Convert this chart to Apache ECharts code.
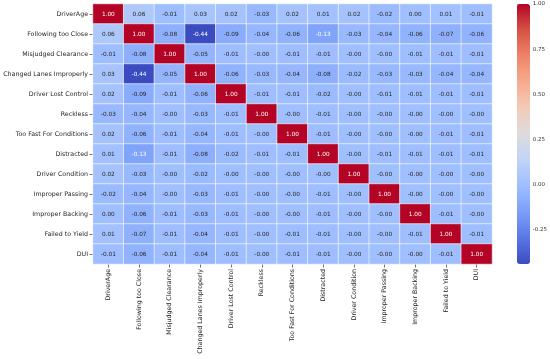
<!DOCTYPE html>
<html>
<head>
<meta charset="utf-8">
<script src="https://cdn.jsdelivr.net/npm/echarts@6/dist/echarts.min.js"></script>
<style>
html,body{margin:0;padding:0;background:#fff;}
#chart{width:550px;height:359px;}
</style>
</head>
<body>
<div id="chart"></div>
<script>
var categories = ['DriverAge','Following too Close','Misjudged Clearance','Changed Lanes Improperly','Driver Lost Control','Reckless','Too Fast For Conditions','Distracted','Driver Condition','Improper Passing','Improper Backing','Failed to Yield','DUI'];

var rowDriverAge        = [1.00, 0.06,-0.01, 0.03, 0.02,-0.03, 0.02, 0.01, 0.02,-0.02, 0.00, 0.01,-0.01];
var rowFollowing        = [0.06, 1.00,-0.08,-0.44,-0.09,-0.04,-0.06,-0.13,-0.03,-0.04,-0.06,-0.07,-0.06];
var rowMisjudged        = [-0.01,-0.08,1.00,-0.05,-0.01,-0, -0.01,-0.01,-0, -0, -0.01,-0.01,-0.01];
var rowChangedLanes     = [0.03,-0.44,-0.05, 1.00,-0.06,-0.03,-0.04,-0.08,-0.02,-0.03,-0.03,-0.04,-0.04];
var rowLostControl      = [0.02,-0.09,-0.01,-0.06, 1.00,-0.01,-0.01,-0.02,-0, -0.01,-0.01,-0.01,-0.01];
var rowReckless         = [-0.03,-0.04,-0, -0.03,-0.01, 1.00,-0, -0.01,-0, -0, -0, -0, -0];
var rowTooFast          = [0.02,-0.06,-0.01,-0.04,-0.01,-0, 1.00,-0.01,-0, -0, -0, -0.01,-0.01];
var rowDistracted       = [0.01,-0.13,-0.01,-0.08,-0.02,-0.01,-0.01, 1.00,-0, -0.01,-0.01,-0.01,-0.01];
var rowDriverCondition  = [0.02,-0.03,-0, -0.02,-0, -0, -0, -0, 1.00,-0, -0, -0, -0];
var rowImproperPassing  = [-0.02,-0.04,-0, -0.03,-0.01,-0, -0, -0.01,-0, 1.00,-0, -0, -0];
var rowImproperBacking  = [0.00,-0.06,-0.01,-0.03,-0.01,-0, -0, -0.01,-0, -0, 1.00,-0.01,-0];
var rowFailedToYield    = [0.01,-0.07,-0.01,-0.04,-0.01,-0, -0.01,-0.01,-0, -0, -0.01, 1.00,-0.01];
var rowDUI              = [-0.01,-0.06,-0.01,-0.04,-0.01,-0, -0.01,-0.01,-0, -0, -0, -0.01, 1.00];

var corr = [rowDriverAge,rowFollowing,rowMisjudged,rowChangedLanes,rowLostControl,rowReckless,rowTooFast,rowDistracted,rowDriverCondition,rowImproperPassing,rowImproperBacking,rowFailedToYield,rowDUI];

var colorbarTicks = [-0.25, 0.00, 0.25, 0.50, 0.75, 1.00];
var vMin = -0.44, vMax = 1.00;

var coolwarm = ['#3b4cc0','#5977e3','#7b9ff9','#9ebeff','#c0d4f5','#dddcdc','#f2cbb7','#f7ac8e','#ee8468','#d65244','#b40426'];

function fmt(v){
  var neg = v < 0 || Object.is(v, -0);
  return (neg ? '-' : '') + Math.abs(v).toFixed(2);
}

var data = [];
for (var r = 0; r < corr.length; r++) {
  for (var c = 0; c < corr[r].length; c++) {
    var v = corr[r][c];
    var dark = (v >= 0.9 || v <= -0.1);
    data.push({value:[c, r, v], label:{color: dark ? '#ffffff' : '#262626'}});
  }
}

var chart = echarts.init(document.getElementById('chart'), null, {renderer:'canvas'});
var font = 'DejaVu Sans';
chart.setOption({
  animation:false,
  backgroundColor:'#ffffff',
  textStyle:{fontFamily:font},
  grid:[
    {left:93, top:4, width:399, height:260, containLabel:false},
    {left:517, top:4, width:13, height:260, containLabel:false}
  ],
  xAxis:[
    {type:'category', gridIndex:0, data:categories, position:'bottom',
     axisLine:{show:false}, splitLine:{show:false}, splitArea:{show:false},
     axisTick:{show:true, alignWithLabel:true, length:3.5, lineStyle:{color:'#333', width:0.7}},
     axisLabel:{rotate:90, fontSize:6.3, color:'#262626', margin:5, fontFamily:font, interval:0}},
    {type:'value', gridIndex:1, min:0, max:1, show:false}
  ],
  yAxis:[
    {type:'category', gridIndex:0, data:categories, inverse:true,
     axisLine:{show:false}, splitLine:{show:false}, splitArea:{show:false},
     axisTick:{show:true, alignWithLabel:true, length:3.5, lineStyle:{color:'#333', width:0.7}},
     axisLabel:{fontSize:6.3, color:'#262626', margin:5, fontFamily:font, interval:0}},
    {type:'value', gridIndex:1, min:vMin, max:vMax, position:'right', show:true,
     axisLine:{show:false}, splitLine:{show:false},
     axisTick:{show:true, length:2.5, lineStyle:{color:'#444', width:0.6}, customValues:colorbarTicks},
     axisLabel:{show:true, fontSize:5.5, color:'#333', margin:3, fontFamily:font, customValues:colorbarTicks,
       showMinLabel:true, showMaxLabel:true, hideOverlap:false,
       formatter:function(v){ return fmt(Number(v)); }}}
  ],
  visualMap:{
    type:'continuous', min:vMin, max:vMax, calculable:false, realtime:false,
    seriesIndex:0, orient:'vertical', left:517, top:4, itemWidth:13, itemHeight:260,
    padding:0, text:null, showLabel:false,
    inRange:{color:coolwarm}
  },
  series:[
    {type:'heatmap', xAxisIndex:0, yAxisIndex:0, data:data,
     itemStyle:{borderColor:'#ffffff', borderWidth:0.6},
     label:{show:true, fontSize:5.8, fontFamily:font,
       formatter:function(p){ return fmt(corr[p.value[1]][p.value[0]]); }},
     emphasis:{disabled:true}},
    {type:'scatter', xAxisIndex:1, yAxisIndex:1, data:[], silent:true}
  ]
});
</script>
</body>
</html>
